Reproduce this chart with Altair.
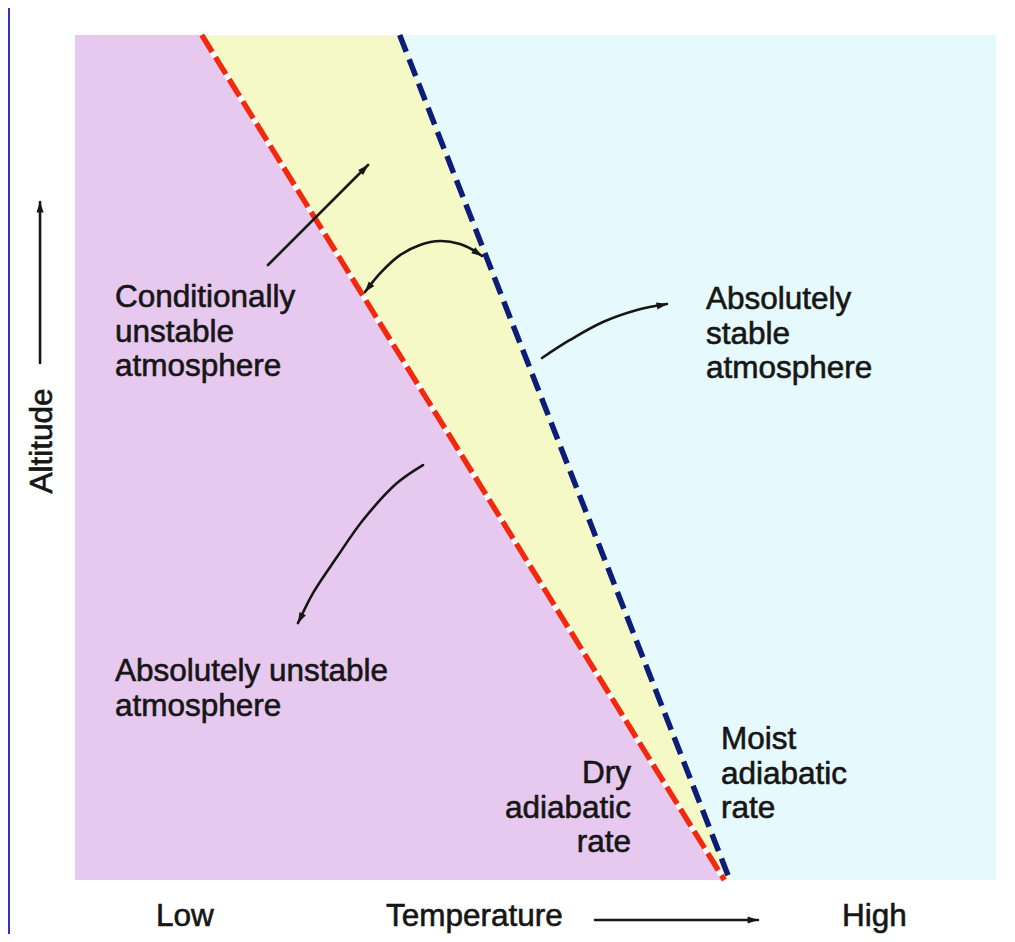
import math
import altair as alt
import pandas as pd

# ---------------- data ----------------
# Coordinates are in diagram units: temperature 0 (low) .. 100 (high), altitude 0 (bottom) .. 100 (top)
line_altitude = [0, 100]
dry_adiabat_temp = [70.2, 13.7]      # red dashed line (bottom, top)
moist_adiabat_temp = [70.8, 35.1]    # blue dashed line (bottom, top)
panel_left_temp = [0, 0]
panel_right_temp = [99.6, 99.6]

region_colors = ["#e7c8ef", "#f4f9c6", "#e6f9fc"]

arrow_ids = ["cond", "curve", "stable", "unstable", "altitude", "temperature"]
arrow_temp = [
    [20.86, 31.68],
    [31.35, 33.0, 35.14, 37.30, 39.46, 41.62, 43.03, 44.0],
    [50.49, 53.51, 57.08, 60.76, 64.0],
    [37.62, 34.81, 31.14, 28.32, 25.73, 24.11],
    [-3.78, -3.78],
    [56.22, 73.84],
]
arrow_alt = [
    [72.78, 84.62],
    [69.59, 71.83, 73.96, 75.15, 75.62, 75.27, 74.56, 73.85],
    [61.78, 63.91, 66.04, 67.46, 68.17],
    [49.11, 46.98, 42.60, 38.22, 33.96, 30.41],
    [61.18, 80.24],
    [-4.73, -4.73],
]
# which ends carry an arrow head: (start, end)
arrow_heads = [(False, True), (True, True), (False, True), (False, True), (False, True), (False, True)]

left_labels = [
    ["Conditionally", "unstable", "atmosphere"],
    ["Absolutely", "stable", "atmosphere"],
    ["Absolutely unstable", "atmosphere"],
    ["Moist", "adiabatic", "rate"],
    ["Low"],
    ["Temperature"],
    ["High"],
]
left_label_temp = [4.32, 68.22, 4.32, 69.84, 8.76, 33.62, 82.92]
left_label_alt = [67.81, 67.57, 23.55, 15.50, -5.44, -5.44, -5.44]

right_labels = [["Dry", "adiabatic", "rate"]]
right_label_temp = [60.11]
right_label_alt = [11.48]

axis_title = ["Altitude"]
axis_title_temp = [-2.49]
axis_title_alt = [51.95]

# ---------------- scales ----------------
W, H = 999, 926
x_dom = [-7.243, 100.757]
y_dom = [-6.39, 103.2]
px_per_T = W / (x_dom[1] - x_dom[0])
px_per_A = H / (y_dom[1] - y_dom[0])
xs = alt.Scale(domain=x_dom, nice=False, zero=False)
ys = alt.Scale(domain=y_dom, nice=False, zero=False)

FONT = "Liberation Sans"
FS = 31.5
INK = "#161616"

# ---------------- regions ----------------
regions = pd.DataFrame({
    "region": ["a_pink"] * 2 + ["b_yellow"] * 2 + ["c_cyan"] * 2,
    "alt": line_altitude * 3,
    "x1": panel_left_temp + dry_adiabat_temp + moist_adiabat_temp,
    "x2": dry_adiabat_temp + moist_adiabat_temp + panel_right_temp,
})
area = alt.Chart(regions).mark_area(orient="horizontal", opacity=1).encode(
    y=alt.Y("alt:Q", scale=ys, axis=None),
    x=alt.X("x1:Q", scale=xs, axis=None),
    x2="x2:Q",
    color=alt.Color("region:N", scale=alt.Scale(domain=["a_pink", "b_yellow", "c_cyan"], range=region_colors), legend=None),
)

dry = pd.DataFrame({"T": dry_adiabat_temp, "A": line_altitude})
moist = pd.DataFrame({"T": moist_adiabat_temp, "A": line_altitude})

def line_layer(df, color, width, dash=None):
    kw = dict(color=color, strokeWidth=width, strokeCap="butt")
    if dash:
        kw["strokeDash"] = dash
    return alt.Chart(df).mark_line(**kw).encode(
        x=alt.X("T:Q", scale=xs, axis=None),
        y=alt.Y("A:Q", scale=ys, axis=None),
    )

dry_under = line_layer(dry, "#ffffff", 5.5)
dry_line = line_layer(dry, "#f2290f", 5.5, [20, 6])
moist_line = line_layer(moist, "#0b1d78", 5.5, [18, 8])

# ---------------- arrows ----------------
rows = []
heads = []
for name, ts, as_, (h0, h1) in zip(arrow_ids, arrow_temp, arrow_alt, arrow_heads):
    for i, (t, a) in enumerate(zip(ts, as_)):
        rows.append({"arrow": name, "i": i, "T": t, "A": a})
    ends = []
    if h1:
        ends.append((ts[-1], as_[-1], ts[-2], as_[-2]))
    if h0:
        ends.append((ts[0], as_[0], ts[1], as_[1]))
    for tt, ta, pt, pa in ends:
        dx = (tt - pt) * px_per_T
        dy = -(ta - pa) * px_per_A
        n = math.hypot(dx, dy)
        ux, uy = dx / n, dy / n
        ang = math.degrees(math.atan2(ux, -uy)) % 360
        back = 5.0
        heads.append({
            "T": tt - ux * back / px_per_T,
            "A": ta + uy * back / px_per_A,
            "angle": ang,
        })
arrow_df = pd.DataFrame(rows)
head_df = pd.DataFrame(heads)

arrow_lines = alt.Chart(arrow_df).mark_line(
    color=INK, strokeWidth=2.6, interpolate="catmull-rom", strokeCap="round"
).encode(
    x=alt.X("T:Q", scale=xs, axis=None),
    y=alt.Y("A:Q", scale=ys, axis=None),
    detail="arrow:N",
    order="i:Q",
)
arrow_heads_layer = alt.Chart(head_df).mark_point(
    shape="M0,-1L0.65,1L-0.65,1Z", filled=True, color=INK, opacity=1, size=120, strokeWidth=0
).encode(
    x=alt.X("T:Q", scale=xs, axis=None),
    y=alt.Y("A:Q", scale=ys, axis=None),
    angle=alt.Angle("angle:Q", scale=None),
)

# ---------------- labels ----------------
ldf = pd.DataFrame({"T": left_label_temp, "A": left_label_alt, "text": left_labels})
rdf = pd.DataFrame({"T": right_label_temp, "A": right_label_alt, "text": right_labels})
adf = pd.DataFrame({"T": axis_title_temp, "A": axis_title_alt, "text": axis_title})

def text_layer(df, align, angle=0):
    kw = dict(font=FONT, fontSize=FS, color=INK, align=align, baseline="alphabetic",
              lineHeight=34.5, stroke=INK, strokeWidth=0.6)
    if angle:
        kw["angle"] = angle
    return alt.Chart(df).mark_text(**kw).encode(
        x=alt.X("T:Q", scale=xs, axis=None),
        y=alt.Y("A:Q", scale=ys, axis=None),
        text="text",
    )

left_text = text_layer(ldf, "left")
right_text = text_layer(rdf, "right")
axis_text = text_layer(adf, "center", 270)

# left edge of the slide frame
frame = alt.Chart(pd.DataFrame({"k": [0]})).mark_rect(color="#3333cc").encode(
    x=alt.value(0), x2=alt.value(2), y=alt.value(0), y2=alt.value(H)
)

chart = alt.layer(
    area, dry_under, dry_line, moist_line, arrow_lines, arrow_heads_layer,
    left_text, right_text, axis_text, frame
).properties(
    width=W, height=H, autosize="none", padding=0, background="#ffffff"
).configure_view(strokeWidth=0)

chart.save("out.html", embed_options={"renderer": "svg", "actions": False})
